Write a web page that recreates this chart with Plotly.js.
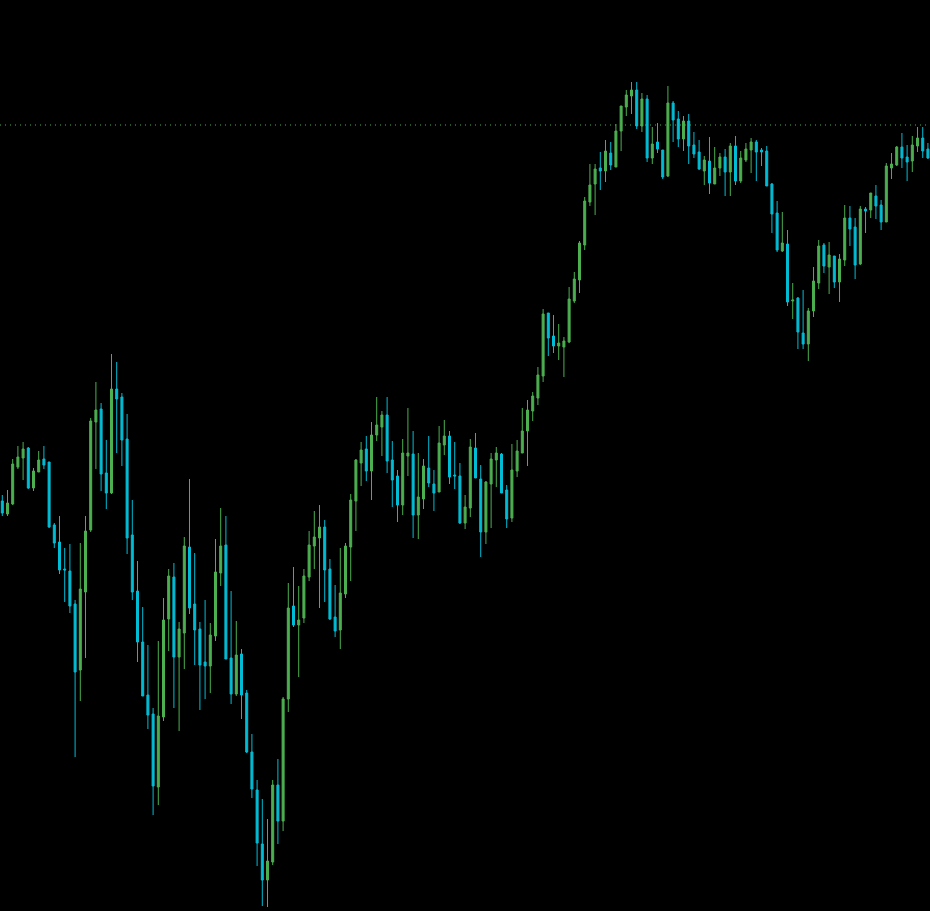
<!DOCTYPE html>
<html>
<head>
<meta charset="utf-8">
<script src="https://cdn.plot.ly/plotly-3.0.1.min.js"></script>
<style>
  html, body { margin: 0; padding: 0; background: #000; }
  #chart { width: 930px; height: 911px; }
</style>
</head>
<body>
<div id="chart"></div>
<script>
// Bar index (one candle per period)
const bars = Array.from({length: 179}, (_, i) => i);

const openPrices = [
  499,486,496,533,542,552,512,528,541,538,475,458,431,429,396,330,408,470,578,591,
  527,507,611,603,561,465,409,358,305,286,213,283,381,423,343,367,453,396,371,338,
  334,364,427,455,342,306,346,307,248,210,156,120,138,215,179,301,394,375,382,423,
  454,462,473,431,383,370,406,453,499,537,551,529,565,573,585,540,524,495,544,546,
  485,501,532,516,508,555,564,525,524,477,492,552,521,468,516,540,546,510,482,529,
  547,569,589,602,624,687,664,654,653,658,699,720,755,798,816,832,829,847,833,869,
  893,904,910,874,901,842,858,850,824,897,881,861,879,855,848,829,839,816,832,843,
  828,854,819,840,850,858,850,849,816,787,749,756,699,702,667,656,689,717,755,733,
  744,718,740,782,773,736,791,790,804,795,778,832,835,853,843,839,854,862,851
];
const highPrices = [
  505,510,541,554,558,553,532,549,554,538,477,484,452,456,400,457,484,582,618,597,
  560,646,638,607,586,500,439,393,355,292,359,402,431,437,378,463,521,447,378,400,
  377,461,492,484,409,379,351,310,266,220,201,181,220,241,303,417,433,414,431,469,
  489,495,480,441,415,452,457,506,541,558,564,578,603,589,603,559,530,561,592,569,
  547,541,564,530,574,580,569,558,537,505,561,567,535,519,547,553,547,515,556,560,
  592,600,608,633,691,687,685,676,663,713,728,759,803,836,836,848,860,858,876,894,
  910,918,918,907,905,873,877,850,914,899,889,884,886,868,860,844,863,853,847,851,
  857,864,849,857,862,860,852,854,817,799,788,770,717,703,710,692,733,760,757,758,
  744,746,795,794,782,794,793,807,815,800,837,847,854,867,855,864,873,873,857
];
const lowPrices = [
  484,484,495,531,520,511,509,528,531,472,452,426,398,387,243,299,342,468,531,509,
  491,506,547,534,446,400,338,304,271,185,195,279,349,292,269,331,386,335,290,301,
  307,359,414,341,296,304,281,247,202,134,94,93,135,156,169,288,373,323,377,419,
  431,392,398,380,363,351,402,419,469,514,519,500,559,544,527,493,478,485,524,462,
  461,491,513,489,508,545,516,511,476,471,483,522,443,456,472,513,507,472,478,523,
  547,534,579,595,618,644,647,640,623,657,697,707,750,794,785,810,818,830,833,849,
  884,886,871,868,838,836,847,821,823,858,853,849,836,842,830,815,806,816,824,804,
  804,815,817,838,827,819,834,814,767,748,748,694,681,651,651,639,683,711,727,706,
  712,698,734,754,721,735,767,782,781,770,778,821,834,832,819,828,848,842,841
];
const closePrices = [
  487,497,536,543,551,512,529,540,535,473,457,430,430,394,328,411,469,579,590,526,
  507,611,601,560,462,408,358,304,285,214,284,380,424,343,371,454,392,370,335,334,
  365,428,454,341,306,345,305,248,211,157,120,139,215,179,301,392,375,380,424,455,
  463,473,430,381,369,407,454,500,540,550,529,565,575,585,539,520,495,547,547,485,
  503,534,517,507,557,564,523,524,477,493,553,522,468,518,541,547,507,481,530,549,
  569,590,604,625,686,662,654,657,659,701,721,757,799,815,831,829,849,835,869,894,
  905,910,874,901,842,856,851,823,897,880,861,879,854,846,831,840,817,832,843,828,
  854,819,842,851,858,848,848,814,786,750,757,698,700,668,656,689,719,754,734,745,
  718,741,782,771,735,791,789,807,794,778,834,836,853,842,838,855,862,849,842
];

// Dotted horizontal price level
const levelLine = 875;

const upColor = '#4caf50';
const downColor = '#00bcd4';

const trace = {
  type: 'candlestick',
  x: bars,
  open: openPrices,
  high: highPrices,
  low: lowPrices,
  close: closePrices,
  increasing: { line: { color: upColor, width: 1 }, fillcolor: upColor },
  decreasing: { line: { color: downColor, width: 1 }, fillcolor: downColor },
  whiskerwidth: 0,
  hoverinfo: 'skip',
  showlegend: false
};

const layout = {
  width: 930,
  height: 911,
  margin: { l: 0, r: 0, t: 0, b: 0, pad: 0 },
  paper_bgcolor: '#000000',
  plot_bgcolor: '#000000',
  showlegend: false,
  boxgap: 0.45,
  xaxis: {
    range: [-0.442, 178.4],
    visible: false,
    showgrid: false,
    zeroline: false,
    rangeslider: { visible: false },
    fixedrange: true
  },
  yaxis: {
    range: [89, 1000],
    visible: false,
    showgrid: false,
    zeroline: false,
    fixedrange: true
  },
  shapes: [{
    type: 'line',
    xref: 'paper', x0: 0, x1: 1,
    yref: 'y', y0: levelLine, y1: levelLine,
    line: { color: upColor, width: 1, dash: '1px,4px' },
    layer: 'below'
  }]
};

Plotly.newPlot('chart', [trace], layout, { staticPlot: true, displayModeBar: false });
</script>
</body>
</html>
